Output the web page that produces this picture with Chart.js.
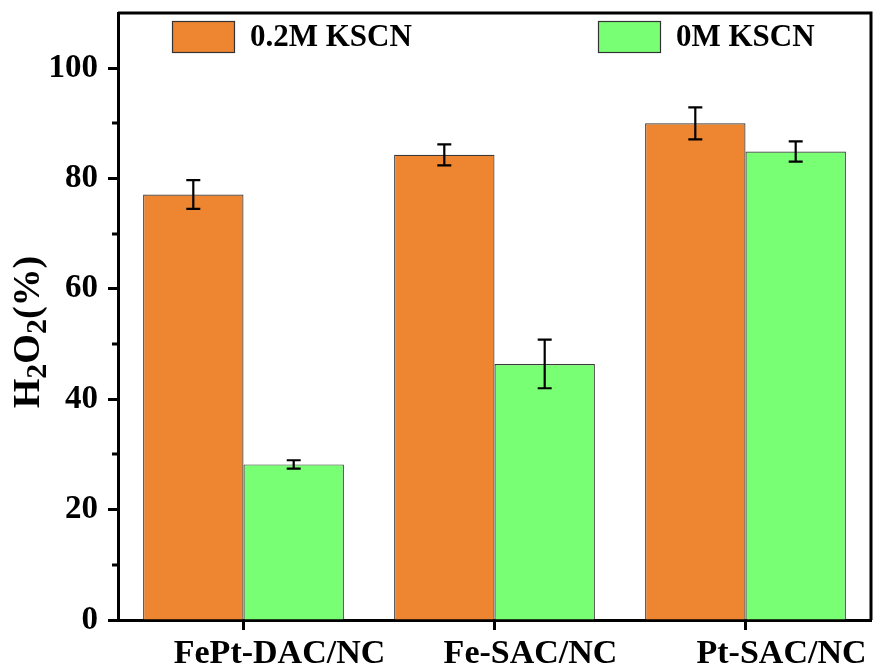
<!DOCTYPE html>
<html>
<head>
<meta charset="utf-8">
<script src="https://cdn.jsdelivr.net/npm/chart.js@4.4.0/dist/chart.umd.min.js"></script>
<style>
  html, body { margin: 0; padding: 0; background: #fff; }
  #wrap { width: 873px; height: 667px; }
</style>
</head>
<body>
<div id="wrap"><canvas id="c" width="873" height="667"></canvas></div>
<script>
// categories and series
var categories = ['FePt-DAC/NC', 'Fe-SAC/NC', 'Pt-SAC/NC'];
var seriesNames = ['0.2M KSCN', '0M KSCN'];
var withKSCN = [77.1, 84.3, 90.0];
var withKSCNErr = [2.6, 1.9, 2.9];
var noKSCN = [28.2, 46.4, 84.9];
var noKSCNErr = [0.75, 4.4, 1.85];
var yTicks = [0, 20, 40, 60, 80, 100];
var yMinorTicks = [10, 30, 50, 70, 90];

var FONT = "'Liberation Serif', 'Times New Roman', serif";
var ORANGE = '#EE8530';
var GREEN = '#79FF74';

// error bars, drawn over the bars using the y scale
var errorBars = {
  id: 'errorBars',
  afterDatasetsDraw: function (chart) {
    var ctx = chart.ctx;
    var y = chart.scales.y;
    ctx.save();
    ctx.strokeStyle = '#000';
    ctx.lineWidth = 2.2;
    chart.data.datasets.forEach(function (ds, di) {
      var meta = chart.getDatasetMeta(di);
      meta.data.forEach(function (bar, i) {
        var v = ds.data[i], e = ds.errors[i];
        var top = y.getPixelForValue(v + e);
        var bot = y.getPixelForValue(v - e);
        ctx.beginPath();
        ctx.moveTo(bar.x, top); ctx.lineTo(bar.x, bot);
        ctx.moveTo(bar.x - 7, top); ctx.lineTo(bar.x + 7, top);
        ctx.moveTo(bar.x - 7, bot); ctx.lineTo(bar.x + 7, bot);
        ctx.stroke();
      });
    });
    ctx.restore();
  }
};

// frame on top/right, minor y ticks, y title with subscripts, legend inside the plot
var decorations = {
  id: 'decorations',
  afterDraw: function (chart) {
    var ctx = chart.ctx;
    var a = chart.chartArea;
    var y = chart.scales.y;
    ctx.save();
    ctx.strokeStyle = '#000';
    ctx.lineWidth = 3;
    ctx.beginPath();
    ctx.moveTo(a.left, a.top); ctx.lineTo(a.right, a.top); ctx.lineTo(a.right, a.bottom);
    ctx.stroke();

    // minor ticks
    yMinorTicks.forEach(function (v) {
      var py = Math.round(y.getPixelForValue(v));
      ctx.beginPath();
      ctx.moveTo(a.left - 6, py); ctx.lineTo(a.left, py);
      ctx.stroke();
    });

    // y title H2O2(%)
    var parts = [
      { t: 'H', s: 38, dy: 0 },
      { t: '2', s: 30, dy: 7 },
      { t: 'O', s: 38, dy: 0 },
      { t: '2', s: 30, dy: 7 },
      { t: '(%)', s: 38, dy: 0 }
    ];
    var total = 0;
    parts.forEach(function (p) {
      ctx.font = 'bold ' + p.s + 'px ' + FONT;
      p.w = ctx.measureText(p.t).width;
      total += p.w;
    });
    ctx.translate(39, 332);
    ctx.rotate(-Math.PI / 2);
    ctx.fillStyle = '#000';
    ctx.textBaseline = 'alphabetic';
    var x = -total / 2;
    parts.forEach(function (p) {
      ctx.font = 'bold ' + p.s + 'px ' + FONT;
      ctx.fillText(p.t, x, p.dy);
      x += p.w;
    });
    ctx.setTransform(1, 0, 0, 1, 0, 0);

    // legend
    var items = [
      { label: seriesNames[0], color: ORANGE, x: a.left + 54 },
      { label: seriesNames[1], color: GREEN, x: a.left + 480 }
    ];
    ctx.font = 'bold 31px ' + FONT;
    ctx.textBaseline = 'middle';
    items.forEach(function (it) {
      ctx.fillStyle = it.color;
      ctx.fillRect(it.x, a.top + 8, 62, 31);
      ctx.lineWidth = 1.2;
      ctx.strokeStyle = '#333';
      ctx.strokeRect(it.x + 0.5, a.top + 8.5, 62, 31);
      ctx.fillStyle = '#000';
      ctx.fillText(it.label, it.x + 78, a.top + 25);
    });
    ctx.restore();
  }
};

var chart = new Chart(document.getElementById('c'), {
  type: 'bar',
  data: {
    labels: categories,
    datasets: [
      {
        label: seriesNames[0], data: withKSCN, errors: withKSCNErr,
        backgroundColor: ORANGE, borderColor: '#3a3a3a', borderWidth: 1.2,
        categoryPercentage: 0.8, barPercentage: 1.0
      },
      {
        label: seriesNames[1], data: noKSCN, errors: noKSCNErr,
        backgroundColor: GREEN, borderColor: '#3a3a3a', borderWidth: 1.2,
        categoryPercentage: 0.8, barPercentage: 1.0
      }
    ]
  },
  options: {
    responsive: false,
    animation: false,
    layout: { autoPadding: false, padding: { top: 13, right: 2, left: 0, bottom: 0 } },
    plugins: {
      legend: { display: false },
      tooltip: { enabled: false }
    },
    scales: {
      x: {
        offset: true,
        grid: {
          display: true, offset: false, drawOnChartArea: false, drawTicks: true,
          tickLength: 10, tickWidth: 3, tickColor: '#000'
        },
        border: { display: true, color: '#000', width: 3 },
        ticks: {
          color: '#000', padding: 4, maxRotation: 0, labelOffset: 36,
          font: { family: FONT, size: 34, weight: 'bold' }
        },
        afterFit: function (s) { s.height = 47; s.paddingLeft = 0; s.paddingRight = 0; }
      },
      y: {
        min: 0, max: 110,
        afterBuildTicks: function (s) {
          s.ticks = yTicks.map(function (v) { return { value: v }; });
        },
        grid: {
          display: true, drawOnChartArea: false, drawTicks: true,
          tickLength: 10, tickWidth: 3, tickColor: '#000'
        },
        border: { display: true, color: '#000', width: 3 },
        ticks: {
          color: '#000', padding: 10,
          font: { family: FONT, size: 33, weight: 'bold' }
        },
        afterFit: function (s) { s.width = 118; s.paddingTop = 0; s.paddingBottom = 0; }
      }
    }
  },
  plugins: [errorBars, decorations]
});
</script>
</body>
</html>
